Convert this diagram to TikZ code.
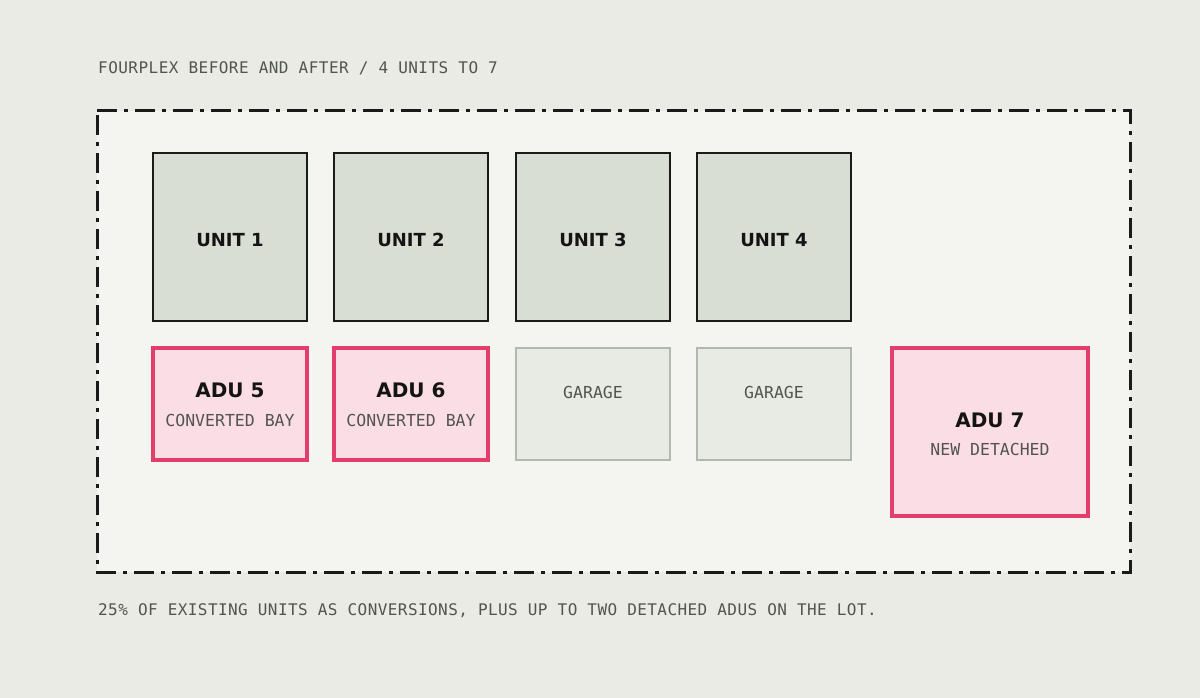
\documentclass[tikz,border=0pt]{standalone}
\usepackage{fontspec}
\setmainfont{DejaVu Sans}
\newfontfamily\titlefont[LetterSpace=2.9]{DejaVu Sans Mono}
\newfontfamily\footfont[LetterSpace=2.7]{DejaVu Sans Mono}
\newfontfamily\subfont{DejaVu Sans Mono}
\newfontfamily\boldfont{DejaVu Sans}
\definecolor{bgc}{RGB}{233,235,228}
\definecolor{panelc}{RGB}{244,244,240}
\definecolor{unitfill}{RGB}{216,222,212}
\definecolor{darkline}{RGB}{26,26,26}
\definecolor{adufill}{RGB}{251,221,229}
\definecolor{adustroke}{RGB}{226,61,107}
\definecolor{garfill}{RGB}{232,235,228}
\definecolor{garstroke}{RGB}{176,184,176}
\definecolor{monotext}{RGB}{82,84,80}
\definecolor{boldtext}{RGB}{20,20,20}
\tikzset{
  unitbox/.style={draw=darkline, line width=2.2pt, fill=unitfill, minimum width=154pt, minimum height=168pt, inner sep=0pt},
  adubox/.style={draw=adustroke, line width=3.2pt, fill=adufill, minimum width=154pt, minimum height=112pt, inner sep=0pt},
  adubig/.style={draw=adustroke, line width=3.2pt, fill=adufill, minimum width=196pt, minimum height=168pt, inner sep=0pt},
  garbox/.style={draw=garstroke, line width=2.2pt, fill=garfill, minimum width=154pt, minimum height=112pt, inner sep=0pt},
  unitlabel/.style={anchor=base, inner sep=0pt, text=boldtext, font=\boldfont\bfseries\fontsize{18}{20}\selectfont},
  adulabel/.style={anchor=base, inner sep=0pt, text=boldtext, font=\boldfont\bfseries\fontsize{20}{22}\selectfont},
  sublabel/.style={anchor=base, inner sep=0pt, text=monotext, font=\subfont\fontsize{16.5}{19}\selectfont},
  caption/.style={anchor=base west, inner sep=0pt, text=monotext},
  lotline/.style={draw=darkline, line width=3pt, dash pattern=on 20pt off 7pt on 4pt off 7pt}
}
\begin{document}
\begin{tikzpicture}[x=1pt,y=-1pt]
\useasboundingbox (0,0) rectangle (1200,698);
\fill[bgc] (0,0) rectangle (1200,698);
% lot
\coordinate (lotnw) at (97,111);
\coordinate (lotne) at (1130,111);
\coordinate (lotse) at (1130,572);
\coordinate (lotsw) at (97,572);
\fill[panelc] (lotnw) rectangle (lotse);
\draw[lotline] (lotnw) -- (lotne) -- (lotse) -- (lotsw) -- cycle;
% title and footer
\node[caption, font=\titlefont\fontsize{16}{19}\selectfont] (title) at (98,73.3) {FOURPLEX BEFORE AND AFTER / 4 UNITS TO 7};
\node[caption, font=\footfont\fontsize{16}{19}\selectfont] (foot) at (98,615) {25\% OF EXISTING UNITS AS CONVERSIONS, PLUS UP TO TWO DETACHED ADUS ON THE LOT.};
% units
\node[unitbox] (u1) at (230,237) {};
\node[unitbox] (u2) at (411,237) {};
\node[unitbox] (u3) at (593,237) {};
\node[unitbox] (u4) at (774,237) {};
\node[unitlabel] (u1t) at (230,246) {UNIT 1};
\node[unitlabel] (u2t) at (411,246) {UNIT 2};
\node[unitlabel] (u3t) at (593,246) {UNIT 3};
\node[unitlabel] (u4t) at (774,246) {UNIT 4};
% second row
\node[adubox] (a5) at (230,404) {};
\node[adubox] (a6) at (411,404) {};
\node[garbox] (g1) at (593,404) {};
\node[garbox] (g2) at (774,404) {};
\node[adubig] (a7) at (990,432) {};
\node[adulabel] (a5t) at (230,397.3) {ADU 5};
\node[sublabel] (a5s) at (230,426.5) {CONVERTED BAY};
\node[adulabel] (a6t) at (411,397.3) {ADU 6};
\node[sublabel] (a6s) at (411,426.5) {CONVERTED BAY};
\node[sublabel] (g1t) at (593,398.7) {GARAGE};
\node[sublabel] (g2t) at (774,398.7) {GARAGE};
\node[adulabel] (a7t) at (990,427) {ADU 7};
\node[sublabel] (a7s) at (990,455.3) {NEW DETACHED};
\end{tikzpicture}
\end{document}
